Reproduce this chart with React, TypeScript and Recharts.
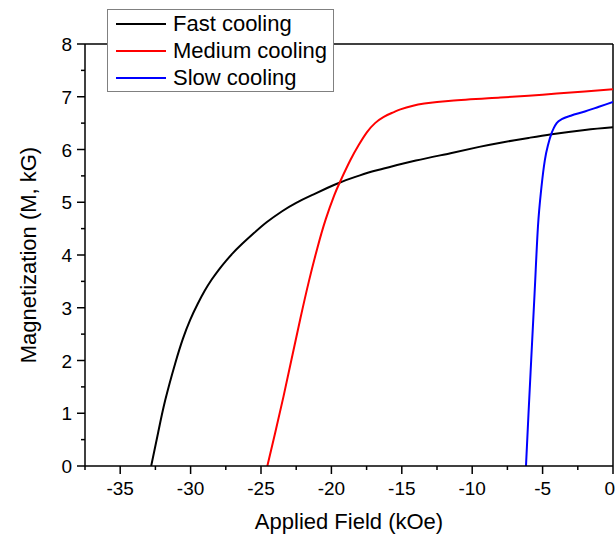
import React from 'react';
import {
  LineChart,
  Line,
  XAxis,
  YAxis,
  Legend,
  ReferenceLine,
} from 'recharts';

// M(H) curves: [field kOe, magnetization kG]
const fastCooling = [
  [-32.8, 0], [-32.3, 0.64], [-31.8, 1.25], [-31.1, 1.94], [-30.55, 2.41],
  [-30.03, 2.77], [-29.5, 3.07], [-29, 3.32], [-28.5, 3.535], [-28, 3.72],
  [-27.5, 3.885], [-27, 4.035], [-26.5, 4.17], [-25.5, 4.415], [-24.58, 4.625],
  [-23.5, 4.83], [-22.5, 4.99], [-21.26, 5.15], [-20.3, 5.27], [-19.43, 5.37],
  [-18.3, 5.48], [-17.3, 5.57], [-16.28, 5.64], [-14, 5.79], [-11.54, 5.93],
  [-9.5, 6.05], [-7.98, 6.13], [-6, 6.22], [-4.35, 6.29], [-2, 6.37], [0, 6.42],
];

const mediumCooling = [
  [-24.55, 0], [-24, 0.62], [-23.4, 1.32], [-22.8, 2.06], [-22.2, 2.8],
  [-21.6, 3.5], [-21, 4.13], [-20.4, 4.68], [-19.8, 5.13], [-19.4, 5.38],
  [-18.65, 5.8], [-18.05, 6.09], [-17.47, 6.33], [-16.9, 6.5], [-16.28, 6.62],
  [-15.6, 6.705], [-15.1, 6.76], [-14.2, 6.83], [-13.4, 6.87], [-11.5, 6.925],
  [-8, 6.985], [-5, 7.04], [-2, 7.1], [0, 7.14],
];

const slowCooling = [
  [-6.18, 0], [-6.0, 1.0], [-5.81, 2.01], [-5.57, 3.27], [-5.33, 4.54],
  [-5.08, 5.29], [-4.84, 5.8], [-4.6, 6.1], [-4.36, 6.31], [-4.2, 6.41],
  [-4.0, 6.5], [-3.6, 6.58], [-3.0, 6.64], [-2.0, 6.72], [-1.0, 6.81], [0, 6.9],
];

const xTicks = [-37.5, -35, -32.5, -30, -27.5, -25, -22.5, -20, -17.5, -15, -12.5, -10, -7.5, -5, -2.5, 0];
const yTicks = [0, 0.5, 1, 1.5, 2, 2.5, 3, 3.5, 4, 4.5, 5, 5.5, 6, 6.5, 7, 7.5, 8];

const toPoints = (rows: number[][]) => rows.map(([x, y]) => ({ x, y }));

const series = [
  { name: 'Fast cooling', color: '#000000', curve: 'natural', data: toPoints(fastCooling) },
  { name: 'Medium cooling', color: '#ff0000', curve: 'natural', data: toPoints(mediumCooling) },
  { name: 'Slow cooling', color: '#0000ff', curve: 'monotone', data: toPoints(slowCooling) },
];

const FONT = '"Liberation Sans", Arial, sans-serif';
const WIDTH = 616;

function XTick({ x, y, payload }: any) {
  const major = payload.value % 5 === 0;
  // keep the last label inside the picture
  const atEdge = x + 6 > WIDTH;
  return (
    <g>
      <line x1={x} x2={x} y1={y} y2={y + (major ? 8 : 4)} stroke="#000" strokeWidth={1.5} />
      {major && (
        <text
          x={atEdge ? WIDTH - 1 : x}
          y={y + 29}
          textAnchor={atEdge ? 'end' : 'middle'}
          fontSize={19}
          fill="#000"
          fontFamily={FONT}
        >
          {payload.value}
        </text>
      )}
    </g>
  );
}

function YTick({ x, y, payload }: any) {
  const major = payload.value % 1 === 0;
  return (
    <g>
      <line x1={x} x2={x - (major ? 8 : 4)} y1={y} y2={y} stroke="#000" strokeWidth={1.5} />
      {major && (
        <text x={x - 13} y={y + 7} textAnchor="end" fontSize={19} fill="#000" fontFamily={FONT}>
          {payload.value}
        </text>
      )}
    </g>
  );
}

function LegendBox({ payload }: any) {
  return (
    <div
      style={{
        border: '1px solid #808080',
        background: '#fff',
        padding: '0 6px 0 8px',
        fontFamily: FONT,
        fontSize: 22,
      }}
    >
      {(payload || []).map((item: any) => (
        <div key={item.value} style={{ display: 'flex', alignItems: 'center', height: 27 }}>
          <span style={{ display: 'inline-block', width: 50, height: 2, background: item.color, marginRight: 7 }} />
          <span style={{ color: '#000', whiteSpace: 'nowrap' }}>{item.value}</span>
        </div>
      ))}
    </div>
  );
}

export default function App() {
  return (
    <div style={{ position: 'absolute', left: 0, top: 0, background: '#fff', fontFamily: FONT }}>
      <LineChart width={WIDTH} height={536} margin={{ top: 44, right: 3, bottom: 0, left: 0 }}>
        <XAxis
          type="number"
          dataKey="x"
          domain={[-37.5, 0]}
          ticks={xTicks}
          interval={0}
          height={70}
          tickSize={0}
          tickMargin={0}
          tickLine={false}
          axisLine={{ stroke: '#000', strokeWidth: 1.5 }}
          tick={<XTick />}
          allowDataOverflow
          label={(props: any) => {
            const vb = props.viewBox || { x: 85, y: 466, width: 528 };
            return (
              <text x={vb.x + vb.width / 2} y={vb.y + 63} textAnchor="middle" fontSize={22} fill="#000" fontFamily={FONT}>
                Applied Field (kOe)
              </text>
            );
          }}
        />
        <YAxis
          type="number"
          dataKey="y"
          domain={[0, 8]}
          ticks={yTicks}
          interval={0}
          width={85}
          tickSize={0}
          tickMargin={0}
          tickLine={false}
          axisLine={{ stroke: '#000', strokeWidth: 1.5 }}
          tick={<YTick />}
          allowDataOverflow
          label={(props: any) => {
            const vb = props.viewBox || { x: 0, y: 44, height: 422 };
            const cx = vb.x + 28;
            const cy = vb.y + vb.height / 2;
            return (
              <text
                x={cx}
                y={cy}
                transform={`rotate(-90, ${cx}, ${cy})`}
                textAnchor="middle"
                dominantBaseline="central"
                fontSize={22}
                fill="#000"
                fontFamily={FONT}
              >
                Magnetization (M, kG)
              </text>
            );
          }}
        />
        <ReferenceLine y={8} stroke="#000" strokeWidth={1.5} />
        <ReferenceLine x={0} stroke="#000" strokeWidth={1.5} />
        {series.map((s) => (
          <Line
            key={s.name}
            name={s.name}
            data={s.data}
            dataKey="y"
            type={s.curve as any}
            stroke={s.color}
            strokeWidth={2}
            dot={false}
            activeDot={false}
            isAnimationActive={false}
          />
        ))}
        <Legend
          layout="vertical"
          align="center"
          verticalAlign="middle"
          content={<LegendBox />}
          wrapperStyle={{ left: 107, top: 9, width: 'auto', height: 'auto' }}
        />
      </LineChart>
    </div>
  );
}
